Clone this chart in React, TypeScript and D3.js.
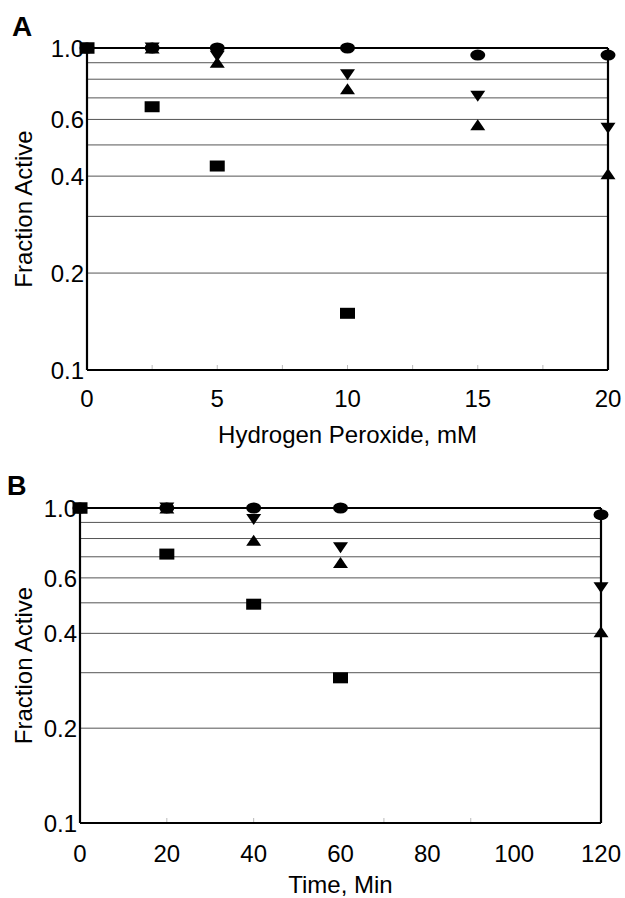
import React from "react";
import * as d3 from "d3";

// ---------- Data ----------
const xA = [0, 2.5, 5, 10, 15, 20];
const circleA = [1.0, 1.0, 1.0, 1.0, 0.951, 0.951];
const downA = [1.0, 1.0, 0.942, 0.826, 0.708, 0.563];
const upA = [1.0, 1.0, 0.903, 0.747, 0.578, 0.407];
const xSquareA = [0, 2.5, 5, 10];
const squareA = [1.0, 0.657, 0.43, 0.15];

const xB = [0, 20, 40, 60, 120];
const circleB = [1.0, 1.0, 1.0, 1.0, 0.952];
const downB = [1.0, 1.0, 0.919, 0.748, 0.558];
const upB = [1.0, 1.0, 0.79, 0.672, 0.405];
const xSquareB = [0, 20, 40, 60];
const squareB = [1.0, 0.714, 0.495, 0.289];

const yTickValues = [1.0, 0.6, 0.4, 0.2, 0.1];
const yTickLabels = ["1.0", "0.6", "0.4", "0.2", "0.1"];
const gridValues = [0.2, 0.3, 0.4, 0.5, 0.6, 0.7, 0.8, 0.9];
const xTicksA = [0, 5, 10, 15, 20];
const xMinorA = [2.5, 5, 7.5, 10, 12.5, 15, 17.5];
const xTicksB = [0, 20, 40, 60, 80, 100, 120];
const xMinorB = [20, 40, 70, 90];

const FONT = "Arial, 'Liberation Sans', Helvetica, sans-serif";

type PanelProps = {
  letter: string;
  letterX: number;
  letterY: number;
  letterSize: number;
  x0: number;
  x1: number;
  yTop: number;
  yBot: number;
  xDomain: [number, number];
  xs: number[];
  circles: number[];
  downs: number[];
  ups: number[];
  sqX: number[];
  squares: number[];
  xTicks: number[];
  xMinor: number[];
  xTitle: string;
  xTitleY: number;
  xTickY: number;
};

const MW = 15; // marker width
const MH = 11; // marker height
const FS = 24;

function Panel(p: PanelProps) {
  const x = d3.scaleLinear().domain(p.xDomain).range([p.x0, p.x1]);
  const y = d3.scaleLog().domain([0.1, 1]).range([p.yBot, p.yTop]);
  const tri = (cx: number, cy: number, up: boolean) => {
    const h = MH, w = MW;
    if (up) return `M${cx - w / 2},${cy + h / 2}L${cx + w / 2},${cy + h / 2}L${cx},${cy - h / 2}Z`;
    return `M${cx - w / 2},${cy - h / 2}L${cx + w / 2},${cy - h / 2}L${cx},${cy + h / 2}Z`;
  };
  const midY = (p.yTop + p.yBot) / 2;
  return (
    <g>
      <text x={p.letterX} y={p.letterY} fontFamily={FONT} fontSize={p.letterSize} fontWeight="bold">
        {p.letter}
      </text>
      {gridValues.map((v) => (
        <line key={"g" + v} x1={p.x0} x2={p.x1} y1={y(v)} y2={y(v)} stroke="#555" strokeWidth={1} />
      ))}
      {p.xMinor.map((v) => (
        <line key={"m" + v} x1={x(v)} x2={x(v)} y1={p.yBot} y2={p.yBot - 5} stroke="#bbb" strokeWidth={1} />
      ))}
      {/* frame */}
      <line x1={p.x0} x2={p.x1} y1={p.yTop} y2={p.yTop} stroke="#000" strokeWidth={2.2} />
      <line x1={p.x0} x2={p.x1} y1={p.yBot} y2={p.yBot} stroke="#000" strokeWidth={2.2} />
      <line x1={p.x0} x2={p.x0} y1={p.yTop} y2={p.yBot} stroke="#000" strokeWidth={2.2} />
      <line x1={p.x1} x2={p.x1} y1={p.yTop} y2={p.yBot} stroke="#000" strokeWidth={2.2} />
      {yTickValues.map((v, i) => (
        <text key={"yt" + v} x={p.x0 - 3} y={y(v) + 9} textAnchor="end" fontFamily={FONT} fontSize={FS}>
          {yTickLabels[i]}
        </text>
      ))}
      {p.xTicks.map((v) => (
        <text key={"xt" + v} x={x(v)} y={p.xTickY} textAnchor="middle" fontFamily={FONT} fontSize={FS}>
          {v}
        </text>
      ))}
      <text x={(p.x0 + p.x1) / 2} y={p.xTitleY} textAnchor="middle" fontFamily={FONT} fontSize={FS}>
        {p.xTitle}
      </text>
      <text
        transform={`translate(32,${midY}) rotate(-90)`}
        textAnchor="middle"
        fontFamily={FONT}
        fontSize={FS}
      >
        Fraction Active
      </text>
      {/* markers */}
      {p.xs.map((v, i) => (
        <ellipse key={"c" + i} cx={x(v)} cy={y(p.circles[i])} rx={MW / 2} ry={MH / 2} fill="#000" />
      ))}
      {p.xs.map((v, i) => (
        <path key={"u" + i} d={tri(x(v), y(p.ups[i]), true)} fill="#000" />
      ))}
      {p.xs.map((v, i) => (
        <path key={"d" + i} d={tri(x(v), y(p.downs[i]), false)} fill="#000" />
      ))}
      {p.sqX.map((v, i) => (
        <rect key={"s" + i} x={x(v) - MW / 2} y={y(p.squares[i]) - MH / 2} width={MW} height={MH} fill="#000" />
      ))}
    </g>
  );
}

export default function App() {
  return (
    <svg
      width={625}
      height={898}
      style={{ position: "absolute", left: 0, top: 0, background: "#fff" }}
    >
      <rect width={625} height={898} fill="#fff" />
      <Panel
        letter="A"
        letterX={12}
        letterY={36}
        letterSize={28}
        x0={87}
        x1={608}
        yTop={48}
        yBot={370}
        xDomain={[0, 20]}
        xs={xA}
        circles={circleA}
        downs={downA}
        ups={upA}
        sqX={xSquareA}
        squares={squareA}
        xTicks={xTicksA}
        xMinor={xMinorA}
        xTitle="Hydrogen Peroxide, mM"
        xTitleY={443}
        xTickY={407}
      />
      <Panel
        letter="B"
        letterX={7}
        letterY={495}
        letterSize={27}
        x0={80}
        x1={601}
        yTop={508}
        yBot={823}
        xDomain={[0, 120]}
        xs={xB}
        circles={circleB}
        downs={downB}
        ups={upB}
        sqX={xSquareB}
        squares={squareB}
        xTicks={xTicksB}
        xMinor={xMinorB}
        xTitle="Time, Min"
        xTitleY={893}
        xTickY={862}
      />
    </svg>
  );
}
